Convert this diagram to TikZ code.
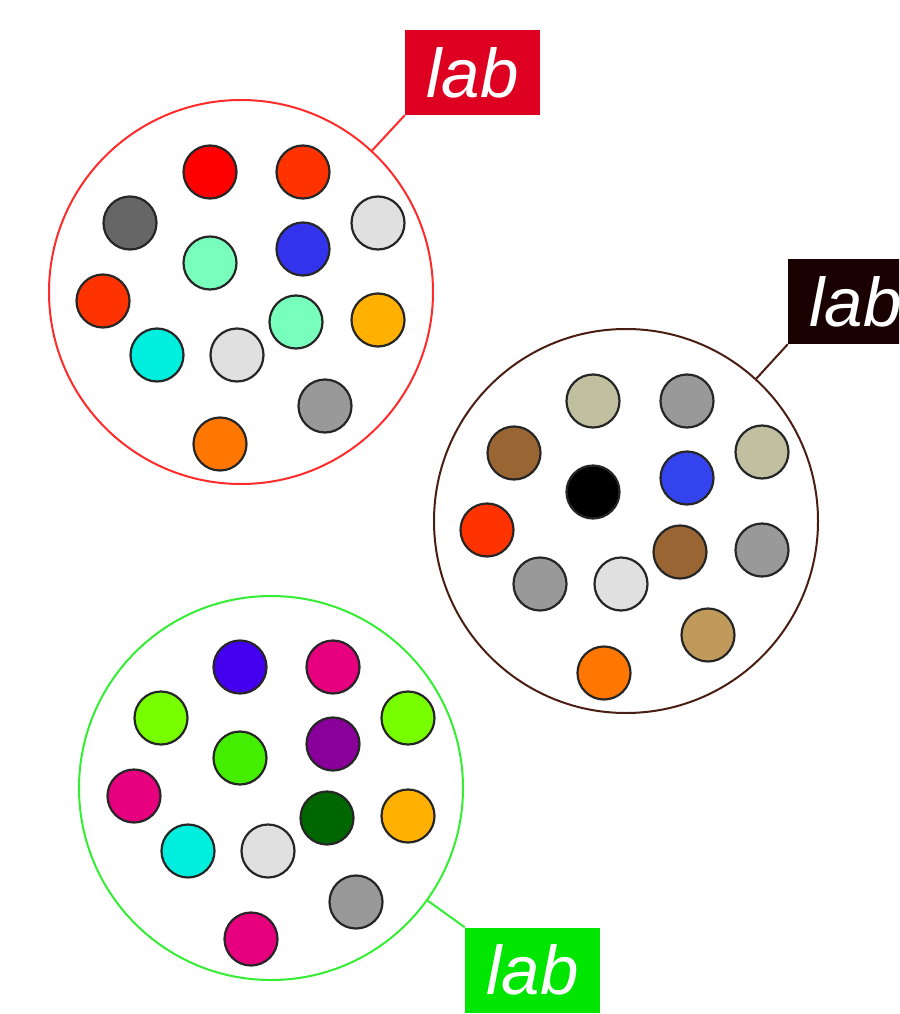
\documentclass[tikz,border=0pt]{standalone}
\usepackage{fontspec}
\newfontfamily\labfont{Liberation Sans}
\definecolor{grpred}{HTML}{FF2A2A}
\definecolor{grpbrown}{HTML}{4A1E12}
\definecolor{grpgreen}{HTML}{33EE33}
\definecolor{labred}{HTML}{DD0020}
\definecolor{labdark}{HTML}{1A0203}
\definecolor{labgreen}{HTML}{00E600}
% bead fills
\definecolor{cRed}{HTML}{FF0000}
\definecolor{cVermil}{HTML}{FF3300}
\definecolor{cDkGray}{HTML}{666666}
\definecolor{cLtGray}{HTML}{E0E0E0}
\definecolor{cMint}{HTML}{77FFBB}
\definecolor{cBlue}{HTML}{3333EE}
\definecolor{cAmber}{HTML}{FFB000}
\definecolor{cCyan}{HTML}{00EEDD}
\definecolor{cGray}{HTML}{999999}
\definecolor{cOrange}{HTML}{FF7700}
\definecolor{cKhaki}{HTML}{C0C0A0}
\definecolor{cBrown}{HTML}{996633}
\definecolor{cBlack}{HTML}{000000}
\definecolor{cBlue2}{HTML}{3344EE}
\definecolor{cTan}{HTML}{C09A5B}
\definecolor{cIndigo}{HTML}{4400EE}
\definecolor{cPink}{HTML}{E6007E}
\definecolor{cLime}{HTML}{77FF00}
\definecolor{cGreen}{HTML}{44EE00}
\definecolor{cPurple}{HTML}{880099}
\definecolor{cDkGreen}{HTML}{006600}
\begin{document}
\begin{tikzpicture}[x=1pt,y=-1pt,
  group/.style={circle, draw=#1, line width=2, minimum size=384, inner sep=0},
  bead/.style={circle, draw=black!85, line width=2.2, minimum size=53, inner sep=0, fill=#1},
  tag/.style={fill=#1, text=white, minimum width=135, minimum height=85, inner sep=0,
    font=\labfont\itshape\fontsize{69}{69}\selectfont},
  link/.style={draw=#1, line width=2}]
\useasboundingbox (0,0) rectangle (899,1014);
\clip (0,0) rectangle (899,1014);

% red group
\node[group=grpred] (gA) at (241,292) {};
\node[bead=cRed] (a1) at (210,172) {};
\node[bead=cVermil] (a2) at (303,172) {};
\node[bead=cDkGray] (a3) at (130,223) {};
\node[bead=cLtGray] (a4) at (378,223) {};
\node[bead=cMint] (a5) at (210,263) {};
\node[bead=cBlue] (a6) at (303,249) {};
\node[bead=cVermil] (a7) at (103,301) {};
\node[bead=cMint] (a8) at (296,322) {};
\node[bead=cAmber] (a9) at (378,320) {};
\node[bead=cCyan] (a10) at (157,355) {};
\node[bead=cLtGray] (a11) at (237,355) {};
\node[bead=cGray] (a12) at (325,406) {};
\node[bead=cOrange] (a13) at (220,444) {};

% brown group
\node[group=grpbrown] (gB) at (626,521) {};
\node[bead=cKhaki] (b1) at (593,401) {};
\node[bead=cGray] (b2) at (687,401) {};
\node[bead=cBrown] (b3) at (514,453) {};
\node[bead=cKhaki] (b4) at (762,452) {};
\node[bead=cBlack] (b5) at (593,492) {};
\node[bead=cBlue2] (b6) at (687,478) {};
\node[bead=cVermil] (b7) at (487,530) {};
\node[bead=cBrown] (b8) at (680,552) {};
\node[bead=cGray] (b9) at (762,550) {};
\node[bead=cGray] (b10) at (540,584) {};
\node[bead=cLtGray] (b11) at (621,584) {};
\node[bead=cTan] (b12) at (708,635) {};
\node[bead=cOrange] (b13) at (604,673) {};

% green group
\node[group=grpgreen] (gC) at (271,788) {};
\node[bead=cIndigo] (c1) at (240,667) {};
\node[bead=cPink] (c2) at (333,667) {};
\node[bead=cLime] (c3) at (161,718) {};
\node[bead=cLime] (c4) at (408,718) {};
\node[bead=cGreen] (c5) at (240,758) {};
\node[bead=cPurple] (c6) at (333,744) {};
\node[bead=cPink] (c7) at (134,796) {};
\node[bead=cDkGreen] (c8) at (327,818) {};
\node[bead=cAmber] (c9) at (408,816) {};
\node[bead=cCyan] (c10) at (188,851) {};
\node[bead=cLtGray] (c11) at (268,851) {};
\node[bead=cGray] (c12) at (356,902) {};
\node[bead=cPink] (c13) at (251,939) {};

% labels and their leaders
\node[tag=labred] (tA) at (472.5,72.5) {lab};
\node[tag=labdark] (tB) at (855.5,301.5) {lab};
\node[tag=labgreen] (tC) at (532.5,970) {lab};
\draw[link=grpred] (tA.south west) -- (gA);
\draw[link=grpbrown] (tB.south west) -- (gB);
\draw[link=grpgreen] (tC.north west) -- (gC);
\end{tikzpicture}
\end{document}
